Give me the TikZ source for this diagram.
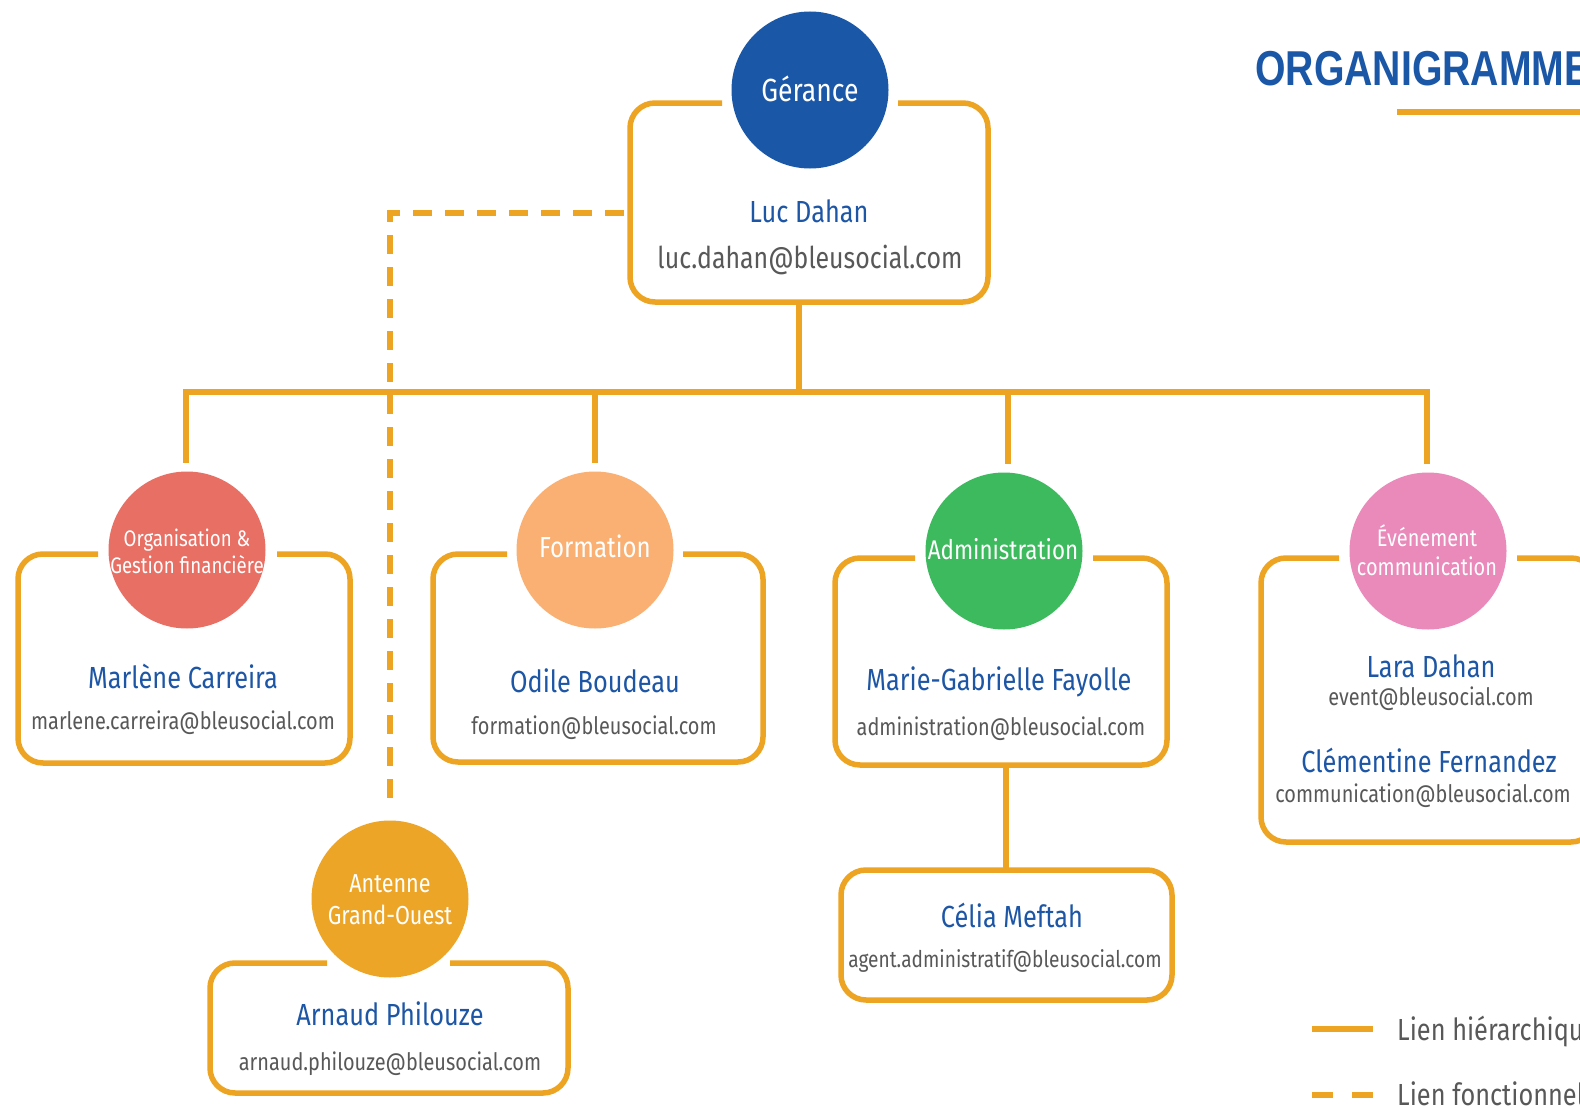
\documentclass[tikz,border=0pt]{standalone}
\usepackage{fontspec}
\setmainfont{Fira Sans}[FakeStretch=0.83]
\newfontfamily\titlefont{Liberation Sans}[FakeStretch=0.80]
\usetikzlibrary{calc}
\definecolor{orn}{HTML}{EDA423}
\definecolor{nameblue}{HTML}{1D56A5}
\definecolor{mailgray}{HTML}{585858}
\definecolor{cger}{HTML}{1B57A7}
\definecolor{corg}{HTML}{E86F64}
\definecolor{cform}{HTML}{F9B072}
\definecolor{cadm}{HTML}{3EBA5E}
\definecolor{ccom}{HTML}{E98ABA}
\definecolor{cant}{HTML}{EDA527}
\tikzset{
  circ/.style={circle, inner sep=0pt, outer sep=0pt, minimum size=157pt},
  ctext/.style={text=white, inner sep=0pt, anchor=base},
  pname/.style={text=nameblue, inner sep=0pt, anchor=base, font=\fontsize{30.5}{36}\selectfont},
  pmail/.style={text=mailgray, inner sep=0pt, anchor=base, font=\fontsize{24}{28}\selectfont},
  boxarea/.style={rectangle, inner sep=0pt, outer sep=0pt},
  frame/.style={draw=orn, line width=5.5pt, rounded corners=25pt},
  hier/.style={draw=orn, line width=5.5pt},
  fonc/.style={draw=orn, line width=6pt, dash pattern=on 19pt off 13pt, dash phase=26pt},
  legtext/.style={text=mailgray, inner sep=0pt, anchor=base west, font=\fontsize{30.5}{36}\selectfont}
}
% #1 name, #2 left, #3 top, #4 right, #5 bottom, #6 gap-left end, #7 gap-right end
\newcommand\openbox[7]{%
  \node[boxarea, minimum width=#4pt-#2pt, minimum height=#5pt-#3pt] (#1) at ({(#2+#4)/2},{(#3+#5)/2}) {};
  \draw[frame] (#6,#3) -- (#2,#3) -- (#2,#5) -- (#4,#5) -- (#4,#3) -- (#7,#3);
}
\begin{document}
\begin{tikzpicture}[x=1pt,y=-1pt]
\clip (0,0) rectangle (1580,1108);
\fill[white] (0,0) rectangle (1580,1108);

% title
\node[inner sep=0pt, anchor=base west, text=cger, font=\titlefont\bfseries\fontsize{49}{56}\selectfont] (title) at (1255,85) {ORGANIGRAMME};
\coordinate (ulA) at (1397,112);
\coordinate (ulB) at (1600,112);
\draw[draw=orn, line width=6pt] (ulA) -- (ulB);

% boxes
\openbox{lucbox}{630}{103}{988}{302}{722}{898}
\openbox{orgbox}{18}{554}{350}{763}{98}{277}
\openbox{formbox}{433}{554}{763}{762}{507}{683}
\openbox{admbox}{835}{558}{1167}{765}{915}{1093}
\openbox{combox}{1261}{558}{1596}{842}{1339}{1517}
\openbox{antbox}{210}{963}{568}{1093}{327}{450}
\node[boxarea, minimum width=331pt, minimum height=130pt] (celbox) at (1006.5,935) {};
\draw[frame] (celbox.north west) rectangle (celbox.south east);

% circles
\node[circ, fill=cger] (gerc) at (810,90) {};
\node[circ, fill=corg] (orgc) at (187,550) {};
\node[circ, fill=cform] (formc) at (595,550) {};
\node[circ, fill=cadm] (admc) at (1004,551) {};
\node[circ, fill=ccom] (comc) at (1428,551) {};
\node[circ, fill=cant] (antc) at (390,899) {};

% circle labels
\node[ctext, font=\fontsize{32}{38}\selectfont] (gert) at (810,101) {Gérance};
\node[ctext, font=\fontsize{22.5}{27}\selectfont] (orgt1) at (187,546) {Organisation \&};
\node[ctext, font=\fontsize{22.5}{27}\selectfont] (orgt2) at (187,573) {Gestion financière};
\node[ctext, font=\fontsize{29}{34}\selectfont] (formt) at (595,557) {Formation};
\node[ctext, font=\fontsize{27}{32}\selectfont] (admt) at (1003,559) {Administration};
\node[ctext, font=\fontsize{24}{28}\selectfont] (comt1) at (1427,546) {Événement};
\node[ctext, font=\fontsize{24}{28}\selectfont] (comt2) at (1427,575) {communication};
\node[ctext, font=\fontsize{26}{30}\selectfont] (antt1) at (390,892) {Antenne};
\node[ctext, font=\fontsize{26}{30}\selectfont] (antt2) at (390,924) {Grand-Ouest};

% names and mails
\node[pname] (lucn) at (809,222) {Luc Dahan};
\node[pmail, font=\fontsize{30}{36}\selectfont] (lucm) at (810,268) {luc.dahan@bleusocial.com};
\node[pname] (orgn) at (183,688) {Marlène Carreira};
\node[pmail] (orgm) at (183,729) {marlene.carreira@bleusocial.com};
\node[pname] (formn) at (595,692) {Odile Boudeau};
\node[pmail] (formm) at (594,734) {formation@bleusocial.com};
\node[pname] (admn) at (999,690) {Marie-Gabrielle Fayolle};
\node[pmail] (admm) at (1001,735) {administration@bleusocial.com};
\node[pname] (comn1) at (1431,677) {Lara Dahan};
\node[pmail] (comm1) at (1431,705) {event@bleusocial.com};
\node[pname] (comn2) at (1429,772) {Clémentine Fernandez};
\node[pmail] (comm2) at (1423,802) {communication@bleusocial.com};
\node[pname] (celn) at (1012,927) {Célia Meftah};
\node[pmail, font=\fontsize{23}{27}\selectfont] (celm) at (1005,967) {agent.administratif@bleusocial.com};
\node[pname] (antn) at (390,1025) {Arnaud Philouze};
\node[pmail] (antm) at (390,1070) {arnaud.philouze@bleusocial.com};

% hierarchy connectors
\coordinate (bar) at (799,392);
\draw[hier] (lucbox.south -| bar) -- (bar);
\draw[hier] ([xshift=-1pt,yshift=9pt]orgc.north) |- (bar) -| ([xshift=-1pt,yshift=9pt]comc.north);
\draw[hier] ([yshift=9pt]formc.north) -- (formc.north |- bar);
\draw[hier] ([xshift=4pt,yshift=9pt]admc.north) -- ([xshift=4pt]admc.north |- bar);
\draw[hier] ([xshift=5pt]admbox.south) -- ([xshift=5pt]admbox.south |- celbox.north);

% functional link
\coordinate (fstart) at ($(lucbox.north west)!0.553!(lucbox.south west)$);
\draw[fonc] (fstart) -| ([yshift=12pt]antc.north);

% legend
\coordinate (lh1) at (1312,1029);
\coordinate (lh2) at (1373,1029);
\draw[hier, line width=6pt] (lh1) -- (lh2);
\node[legtext] (lht) at (1397,1040) {Lien hiérarchique};
\coordinate (lf1) at (1312,1095);
\coordinate (lf2) at (1373,1095);
\draw[draw=orn, line width=6pt, dash pattern=on 21pt off 19pt] (lf1) -- (lf2);
\node[legtext] (lft) at (1397,1105) {Lien fonctionnel};
\end{tikzpicture}
\end{document}
